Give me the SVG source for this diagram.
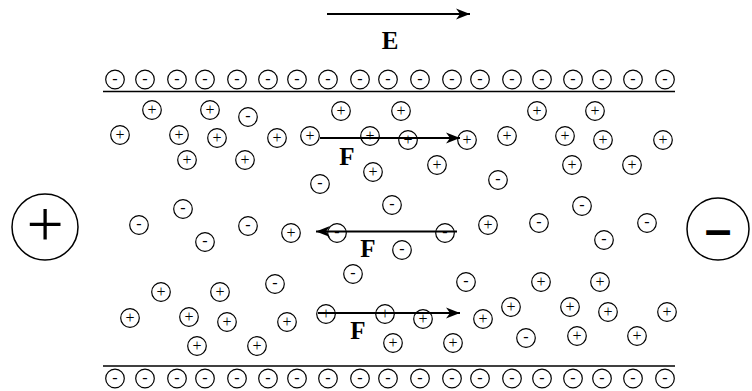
<svg xmlns="http://www.w3.org/2000/svg" width="752" height="391" viewBox="0 0 752 391">
<style>
.ion circle{fill:none;stroke:#000;stroke-width:1.2}
.ion text{font-family:"Liberation Serif",serif;font-size:16px;text-anchor:middle;fill:#000}
.plate{stroke:#000;stroke-width:1.6}
.arr{stroke:#000;stroke-width:1.8;fill:none;marker-end:url(#ah)}
.lbl{font-family:"Liberation Serif",serif;font-weight:bold;font-size:25px;text-anchor:middle;fill:#000}
.big circle{fill:none;stroke:#000;stroke-width:1.5}
</style>
<defs>
<marker id="ah" markerUnits="userSpaceOnUse" markerWidth="20" markerHeight="14" refX="15" refY="6" orient="auto" viewBox="0 0 20 14">
<path d="M15,6 L1,0.5 L5,6 L1,11.5 Z" fill="#000"/>
</marker>
</defs>
<rect width="752" height="391" fill="#fff"/>
<g id="plates">
<line class="plate" x1="103" y1="91.5" x2="675" y2="91.5"/>
<line class="plate" x1="103" y1="366" x2="675" y2="366"/>
</g>
<g id="connectors">
<line class="arr" x1="327" y1="14" x2="470" y2="14"/>
<line class="arr" x1="320" y1="138" x2="460" y2="138"/>
<line class="arr" x1="457" y1="231.5" x2="316" y2="231.5"/>
<line class="arr" x1="318" y1="313" x2="460" y2="313"/>
</g>
<g id="labels">
<text class="lbl" x="390" y="49">E</text>
<text class="lbl" x="347" y="165">F</text>
<text class="lbl" x="368" y="257">F</text>
<text class="lbl" x="358" y="339">F</text>
</g>
<g id="electrode-plus" class="big"><circle cx="45" cy="227" r="33"/><text x="45" y="246" style="font-family:'Liberation Serif',serif;font-size:66px;text-anchor:middle">+</text></g>
<g id="electrode-minus" class="big"><circle cx="718" cy="229" r="31"/><text x="718" y="246" style="font-family:'Liberation Sans',sans-serif;font-weight:bold;font-size:48px;text-anchor:middle">–</text></g>
<g id="top-row">
<g class="ion"><circle cx="115" cy="79.5" r="9.3"/><text x="115" y="83.8">-</text></g>
<g class="ion"><circle cx="145" cy="79.5" r="9.3"/><text x="145" y="83.8">-</text></g>
<g class="ion"><circle cx="177" cy="79.5" r="9.3"/><text x="177" y="83.8">-</text></g>
<g class="ion"><circle cx="205" cy="79.5" r="9.3"/><text x="205" y="83.8">-</text></g>
<g class="ion"><circle cx="237" cy="79.5" r="9.3"/><text x="237" y="83.8">-</text></g>
<g class="ion"><circle cx="268" cy="79.5" r="9.3"/><text x="268" y="83.8">-</text></g>
<g class="ion"><circle cx="297" cy="79.5" r="9.3"/><text x="297" y="83.8">-</text></g>
<g class="ion"><circle cx="328" cy="79.5" r="9.3"/><text x="328" y="83.8">-</text></g>
<g class="ion"><circle cx="360" cy="79.5" r="9.3"/><text x="360" y="83.8">-</text></g>
<g class="ion"><circle cx="388" cy="79.5" r="9.3"/><text x="388" y="83.8">-</text></g>
<g class="ion"><circle cx="420" cy="79.5" r="9.3"/><text x="420" y="83.8">-</text></g>
<g class="ion"><circle cx="452" cy="79.5" r="9.3"/><text x="452" y="83.8">-</text></g>
<g class="ion"><circle cx="480" cy="79.5" r="9.3"/><text x="480" y="83.8">-</text></g>
<g class="ion"><circle cx="512" cy="79.5" r="9.3"/><text x="512" y="83.8">-</text></g>
<g class="ion"><circle cx="542" cy="79.5" r="9.3"/><text x="542" y="83.8">-</text></g>
<g class="ion"><circle cx="573" cy="79.5" r="9.3"/><text x="573" y="83.8">-</text></g>
<g class="ion"><circle cx="602" cy="79.5" r="9.3"/><text x="602" y="83.8">-</text></g>
<g class="ion"><circle cx="633" cy="79.5" r="9.3"/><text x="633" y="83.8">-</text></g>
<g class="ion"><circle cx="665" cy="79.5" r="9.3"/><text x="665" y="83.8">-</text></g>
</g>
<g id="bottom-row">
<g class="ion"><circle cx="115" cy="378.5" r="9.3"/><text x="115" y="382.8">-</text></g>
<g class="ion"><circle cx="145" cy="378.5" r="9.3"/><text x="145" y="382.8">-</text></g>
<g class="ion"><circle cx="177" cy="378.5" r="9.3"/><text x="177" y="382.8">-</text></g>
<g class="ion"><circle cx="205" cy="378.5" r="9.3"/><text x="205" y="382.8">-</text></g>
<g class="ion"><circle cx="237" cy="378.5" r="9.3"/><text x="237" y="382.8">-</text></g>
<g class="ion"><circle cx="268" cy="378.5" r="9.3"/><text x="268" y="382.8">-</text></g>
<g class="ion"><circle cx="297" cy="378.5" r="9.3"/><text x="297" y="382.8">-</text></g>
<g class="ion"><circle cx="328" cy="378.5" r="9.3"/><text x="328" y="382.8">-</text></g>
<g class="ion"><circle cx="360" cy="378.5" r="9.3"/><text x="360" y="382.8">-</text></g>
<g class="ion"><circle cx="388" cy="378.5" r="9.3"/><text x="388" y="382.8">-</text></g>
<g class="ion"><circle cx="420" cy="378.5" r="9.3"/><text x="420" y="382.8">-</text></g>
<g class="ion"><circle cx="452" cy="378.5" r="9.3"/><text x="452" y="382.8">-</text></g>
<g class="ion"><circle cx="480" cy="378.5" r="9.3"/><text x="480" y="382.8">-</text></g>
<g class="ion"><circle cx="512" cy="378.5" r="9.3"/><text x="512" y="382.8">-</text></g>
<g class="ion"><circle cx="542" cy="378.5" r="9.3"/><text x="542" y="382.8">-</text></g>
<g class="ion"><circle cx="573" cy="378.5" r="9.3"/><text x="573" y="382.8">-</text></g>
<g class="ion"><circle cx="602" cy="378.5" r="9.3"/><text x="602" y="382.8">-</text></g>
<g class="ion"><circle cx="633" cy="378.5" r="9.3"/><text x="633" y="382.8">-</text></g>
<g class="ion"><circle cx="665" cy="378.5" r="9.3"/><text x="665" y="382.8">-</text></g>
</g>
<g id="ions">
<g class="ion"><circle cx="152" cy="110" r="9.3"/><text x="152" y="115.3">+</text></g>
<g class="ion"><circle cx="210" cy="110" r="9.3"/><text x="210" y="115.3">+</text></g>
<g class="ion"><circle cx="248" cy="117" r="9.3"/><text x="248" y="121.3">-</text></g>
<g class="ion"><circle cx="341" cy="111" r="9.3"/><text x="341" y="116.3">+</text></g>
<g class="ion"><circle cx="401" cy="111" r="9.3"/><text x="401" y="116.3">+</text></g>
<g class="ion"><circle cx="537" cy="111" r="9.3"/><text x="537" y="116.3">+</text></g>
<g class="ion"><circle cx="595" cy="111" r="9.3"/><text x="595" y="116.3">+</text></g>
<g class="ion"><circle cx="120" cy="135" r="9.3"/><text x="120" y="140.3">+</text></g>
<g class="ion"><circle cx="179" cy="135" r="9.3"/><text x="179" y="140.3">+</text></g>
<g class="ion"><circle cx="217" cy="138" r="9.3"/><text x="217" y="143.3">+</text></g>
<g class="ion"><circle cx="277" cy="138" r="9.3"/><text x="277" y="143.3">+</text></g>
<g class="ion"><circle cx="310" cy="136" r="9.3"/><text x="310" y="141.3">+</text></g>
<g class="ion"><circle cx="370" cy="136" r="9.3"/><text x="370" y="141.3">+</text></g>
<g class="ion"><circle cx="408" cy="140" r="9.3"/><text x="408" y="145.3">+</text></g>
<g class="ion"><circle cx="467" cy="140" r="9.3"/><text x="467" y="145.3">+</text></g>
<g class="ion"><circle cx="507" cy="136" r="9.3"/><text x="507" y="141.3">+</text></g>
<g class="ion"><circle cx="565" cy="136" r="9.3"/><text x="565" y="141.3">+</text></g>
<g class="ion"><circle cx="603" cy="140" r="9.3"/><text x="603" y="145.3">+</text></g>
<g class="ion"><circle cx="663" cy="140" r="9.3"/><text x="663" y="145.3">+</text></g>
<g class="ion"><circle cx="187" cy="160" r="9.3"/><text x="187" y="165.3">+</text></g>
<g class="ion"><circle cx="245" cy="160" r="9.3"/><text x="245" y="165.3">+</text></g>
<g class="ion"><circle cx="373" cy="172" r="9.3"/><text x="373" y="177.3">+</text></g>
<g class="ion"><circle cx="437" cy="165" r="9.3"/><text x="437" y="170.3">+</text></g>
<g class="ion"><circle cx="572" cy="165" r="9.3"/><text x="572" y="170.3">+</text></g>
<g class="ion"><circle cx="632" cy="165" r="9.3"/><text x="632" y="170.3">+</text></g>
<g class="ion"><circle cx="320" cy="184" r="9.3"/><text x="320" y="188.3">-</text></g>
<g class="ion"><circle cx="498" cy="180" r="9.3"/><text x="498" y="184.3">-</text></g>
<g class="ion"><circle cx="183" cy="209" r="9.3"/><text x="183" y="213.3">-</text></g>
<g class="ion"><circle cx="139" cy="225" r="9.3"/><text x="139" y="229.3">-</text></g>
<g class="ion"><circle cx="205" cy="242" r="9.3"/><text x="205" y="246.3">-</text></g>
<g class="ion"><circle cx="248" cy="226" r="9.3"/><text x="248" y="230.3">-</text></g>
<g class="ion"><circle cx="291" cy="233" r="9.3"/><text x="291" y="238.3">+</text></g>
<g class="ion"><circle cx="337" cy="233" r="9.3"/><text x="337" y="237.3">-</text></g>
<g class="ion"><circle cx="392" cy="205" r="9.3"/><text x="392" y="209.3">-</text></g>
<g class="ion"><circle cx="402" cy="250" r="9.3"/><text x="402" y="254.3">-</text></g>
<g class="ion"><circle cx="445" cy="233" r="9.3"/><text x="445" y="237.3">-</text></g>
<g class="ion"><circle cx="488" cy="225" r="9.3"/><text x="488" y="230.3">+</text></g>
<g class="ion"><circle cx="539" cy="223" r="9.3"/><text x="539" y="227.3">-</text></g>
<g class="ion"><circle cx="582" cy="206" r="9.3"/><text x="582" y="210.3">-</text></g>
<g class="ion"><circle cx="604" cy="240" r="9.3"/><text x="604" y="244.3">-</text></g>
<g class="ion"><circle cx="647" cy="223" r="9.3"/><text x="647" y="227.3">-</text></g>
<g class="ion"><circle cx="353" cy="274" r="9.3"/><text x="353" y="278.3">-</text></g>
<g class="ion"><circle cx="275" cy="284" r="9.3"/><text x="275" y="288.3">-</text></g>
<g class="ion"><circle cx="466" cy="282" r="9.3"/><text x="466" y="286.3">-</text></g>
<g class="ion"><circle cx="541" cy="282" r="9.3"/><text x="541" y="287.3">+</text></g>
<g class="ion"><circle cx="600" cy="282" r="9.3"/><text x="600" y="287.3">+</text></g>
<g class="ion"><circle cx="161" cy="292" r="9.3"/><text x="161" y="297.3">+</text></g>
<g class="ion"><circle cx="220" cy="292" r="9.3"/><text x="220" y="297.3">+</text></g>
<g class="ion"><circle cx="130" cy="318" r="9.3"/><text x="130" y="323.3">+</text></g>
<g class="ion"><circle cx="189" cy="317" r="9.3"/><text x="189" y="322.3">+</text></g>
<g class="ion"><circle cx="227" cy="322" r="9.3"/><text x="227" y="327.3">+</text></g>
<g class="ion"><circle cx="287" cy="322" r="9.3"/><text x="287" y="327.3">+</text></g>
<g class="ion"><circle cx="326" cy="314" r="9.3"/><text x="326" y="319.3">+</text></g>
<g class="ion"><circle cx="385" cy="314" r="9.3"/><text x="385" y="319.3">+</text></g>
<g class="ion"><circle cx="423" cy="319" r="9.3"/><text x="423" y="324.3">+</text></g>
<g class="ion"><circle cx="483" cy="319" r="9.3"/><text x="483" y="324.3">+</text></g>
<g class="ion"><circle cx="511" cy="307" r="9.3"/><text x="511" y="312.3">+</text></g>
<g class="ion"><circle cx="570" cy="307" r="9.3"/><text x="570" y="312.3">+</text></g>
<g class="ion"><circle cx="608" cy="312" r="9.3"/><text x="608" y="317.3">+</text></g>
<g class="ion"><circle cx="667" cy="312" r="9.3"/><text x="667" y="317.3">+</text></g>
<g class="ion"><circle cx="197" cy="346" r="9.3"/><text x="197" y="351.3">+</text></g>
<g class="ion"><circle cx="257" cy="346" r="9.3"/><text x="257" y="351.3">+</text></g>
<g class="ion"><circle cx="393" cy="343" r="9.3"/><text x="393" y="348.3">+</text></g>
<g class="ion"><circle cx="453" cy="343" r="9.3"/><text x="453" y="348.3">+</text></g>
<g class="ion"><circle cx="526" cy="338" r="9.3"/><text x="526" y="342.3">-</text></g>
<g class="ion"><circle cx="577" cy="336" r="9.3"/><text x="577" y="341.3">+</text></g>
<g class="ion"><circle cx="637" cy="336" r="9.3"/><text x="637" y="341.3">+</text></g>
</g>
</svg>
